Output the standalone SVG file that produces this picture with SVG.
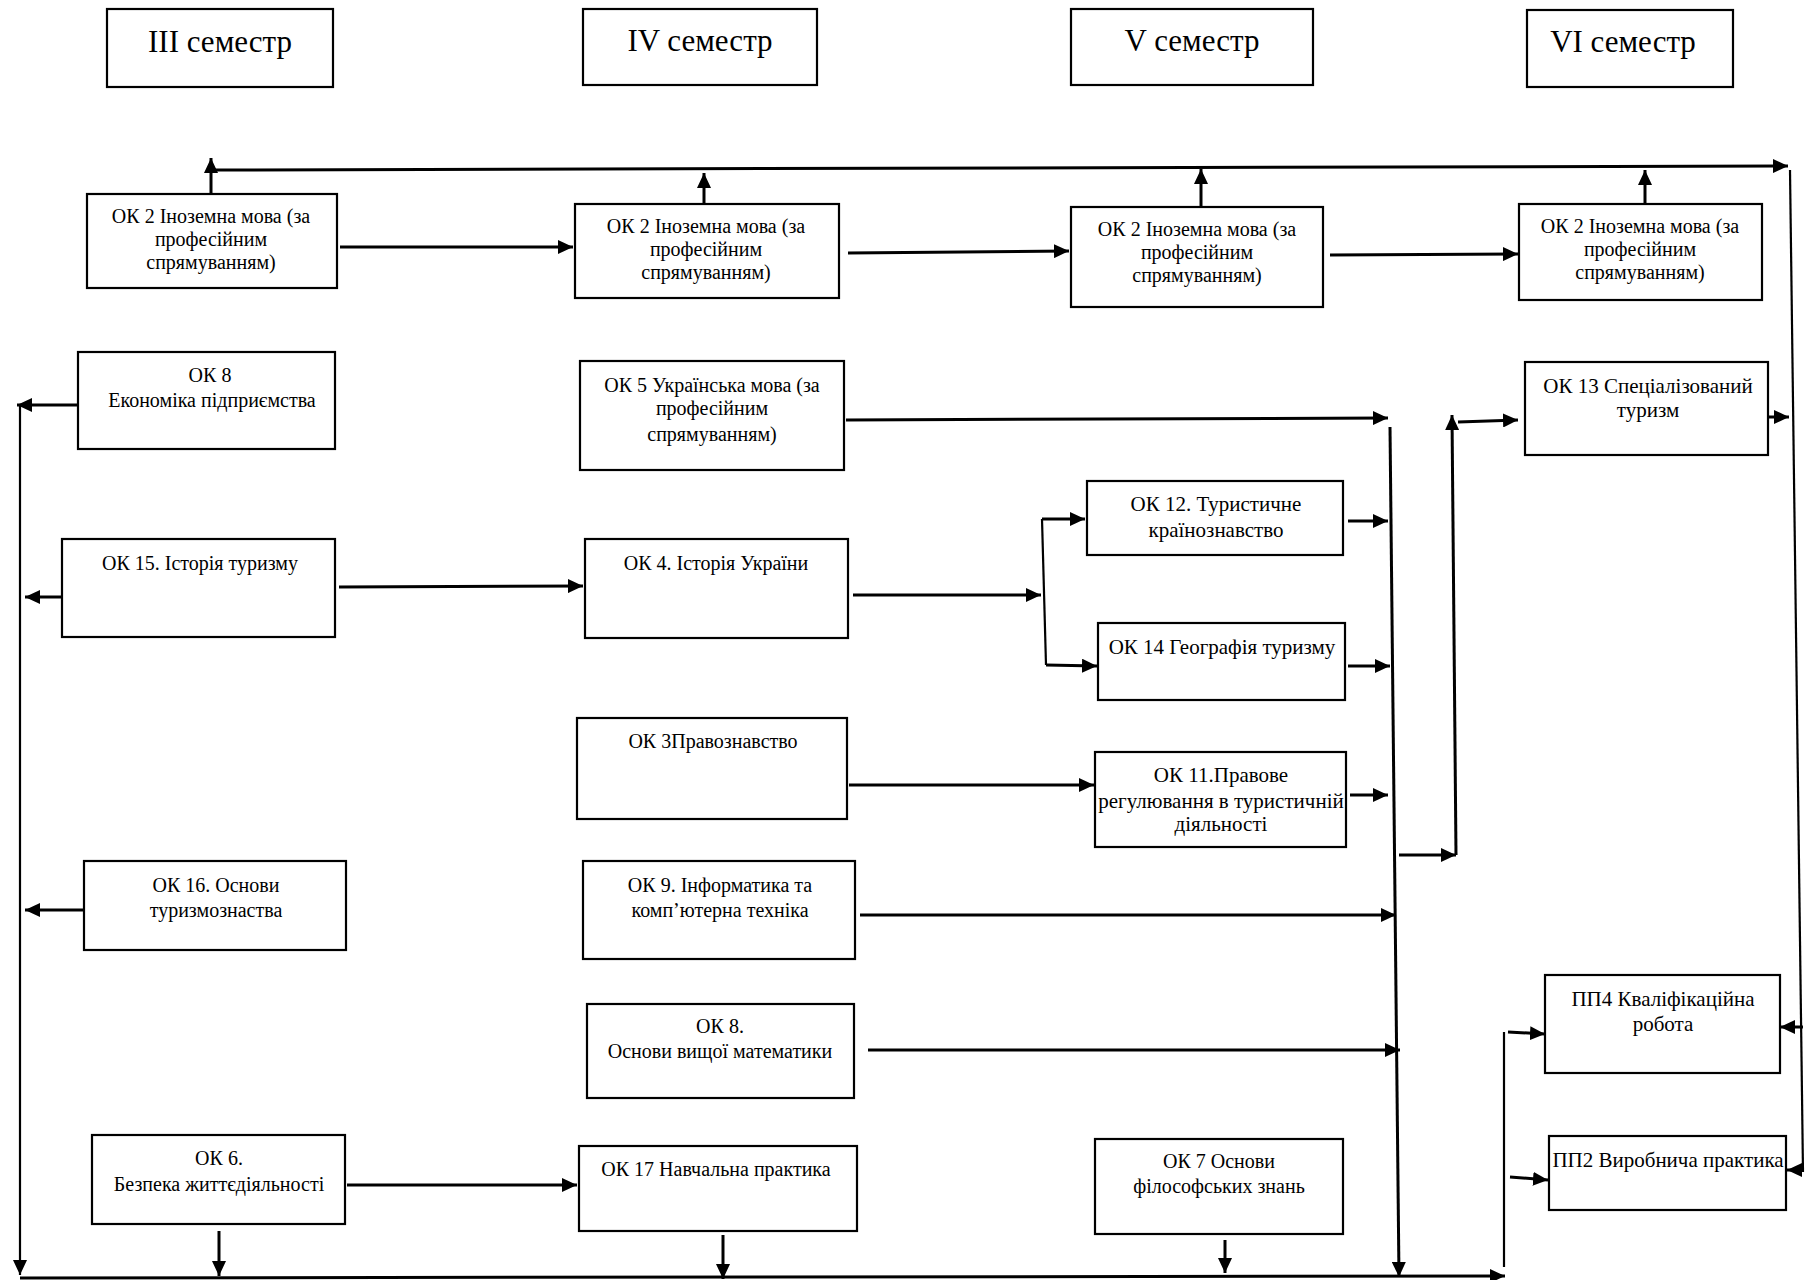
<svg xmlns="http://www.w3.org/2000/svg" width="1809" height="1280" viewBox="0 0 1809 1280">
<style>
.b{fill:#fff;stroke:#000;stroke-width:2.2}
.t{font-family:"Liberation Serif","Times New Roman",serif;font-size:20px;fill:#000;text-anchor:middle}
.w{font-size:21px}
.h{font-family:"Liberation Serif","Times New Roman",serif;font-size:31px;fill:#000;text-anchor:middle}
.c{fill:none;stroke:#000;stroke-width:3}
.l{fill:none;stroke:#000;stroke-width:2.2}
</style>
<defs>
<marker id="a" markerUnits="userSpaceOnUse" markerWidth="16" markerHeight="14" refX="15" refY="7" orient="auto">
<path d="M0,0 L15,7 L0,14 z" fill="#000"/>
</marker>
</defs>
<rect width="1809" height="1280" fill="#fff"/>

<g id="sem3"><rect class="b" x="107" y="9" width="226" height="78"/><text class="h" x="220" y="52">III семестр</text></g>
<g id="sem4"><rect class="b" x="583" y="9" width="234" height="76"/><text class="h" x="700" y="51">IV семестр</text></g>
<g id="sem5"><rect class="b" x="1071" y="9" width="242" height="76"/><text class="h" x="1192" y="51">V семестр</text></g>
<g id="sem6"><rect class="b" x="1527" y="10" width="206" height="77"/><text class="h" x="1623" y="52">VI семестр</text></g>

<g id="ok2_3"><rect class="b" x="87" y="194" width="250" height="94"/><text class="t" x="211" y="223">ОК 2 Іноземна мова (за</text><text class="t" x="211" y="246">професійним</text><text class="t" x="211" y="269">спрямуванням)</text></g>
<g id="ok2_4"><rect class="b" x="575" y="204" width="264" height="94"/><text class="t" x="706" y="233">ОК 2 Іноземна мова (за</text><text class="t" x="706" y="256">професійним</text><text class="t" x="706" y="279">спрямуванням)</text></g>
<g id="ok2_5"><rect class="b" x="1071" y="207" width="252" height="100"/><text class="t" x="1197" y="236">ОК 2 Іноземна мова (за</text><text class="t" x="1197" y="259">професійним</text><text class="t" x="1197" y="282">спрямуванням)</text></g>
<g id="ok2_6"><rect class="b" x="1519" y="204" width="243" height="96"/><text class="t" x="1640" y="233">ОК 2 Іноземна мова (за</text><text class="t" x="1640" y="256">професійним</text><text class="t" x="1640" y="279">спрямуванням)</text></g>

<g id="ok8e"><rect class="b" x="78" y="352" width="257" height="97"/><text class="t" x="210" y="382">ОК 8</text><text class="t" x="212" y="407">Економіка підприємства</text></g>
<g id="ok5"><rect class="b" x="580" y="361" width="264" height="109"/><text class="t" x="712" y="392">ОК 5  Українська мова (за</text><text class="t" x="712" y="415">професійним</text><text class="t" x="712" y="441">спрямуванням)</text></g>
<g id="ok13"><rect class="b" x="1525" y="362" width="243" height="93"/><text class="t w" x="1648" y="393">ОК 13 Спеціалізований</text><text class="t w" x="1648" y="417">туризм</text></g>

<g id="ok12"><rect class="b" x="1087" y="481" width="256" height="74"/><text class="t w" x="1216" y="511">ОК 12. Туристичне</text><text class="t w" x="1216" y="537">країнознавство</text></g>
<g id="ok15"><rect class="b" x="62" y="539" width="273" height="98"/><text class="t" x="200" y="570">ОК 15. Історія туризму</text></g>
<g id="ok4"><rect class="b" x="585" y="539" width="263" height="99"/><text class="t" x="716" y="570">ОК 4. Історія України</text></g>
<g id="ok14"><rect class="b" x="1098" y="623" width="247" height="77"/><text class="t w" x="1222" y="654">ОК 14 Географія туризму</text></g>

<g id="ok3"><rect class="b" x="577" y="718" width="270" height="101"/><text class="t" x="713" y="748">ОК 3Правознавство</text></g>
<g id="ok11"><rect class="b" x="1095" y="752" width="251" height="95"/><text class="t w" x="1221" y="782">ОК 11.Правове</text><text class="t w" x="1221" y="808">регулювання в туристичній</text><text class="t w" x="1221" y="831">діяльності</text></g>

<g id="ok16"><rect class="b" x="84" y="861" width="262" height="89"/><text class="t" x="216" y="892">ОК 16. Основи</text><text class="t" x="216" y="917">туризмознаства</text></g>
<g id="ok9"><rect class="b" x="583" y="861" width="272" height="98"/><text class="t" x="720" y="892">ОК 9. Інформатика та</text><text class="t" x="720" y="917">комп’ютерна техніка</text></g>

<g id="ok8m"><rect class="b" x="587" y="1004" width="267" height="94"/><text class="t" x="720" y="1033">ОК 8.</text><text class="t" x="720" y="1058">Основи вищої математики</text></g>
<g id="pp4"><rect class="b" x="1545" y="975" width="235" height="98"/><text class="t w" x="1663" y="1006">ПП4 Кваліфікаційна</text><text class="t w" x="1663" y="1031">робота</text></g>

<g id="ok6"><rect class="b" x="92" y="1135" width="253" height="89"/><text class="t" x="219" y="1165">ОК 6.</text><text class="t" x="219" y="1191">Безпека життєдіяльності</text></g>
<g id="ok17"><rect class="b" x="579" y="1146" width="278" height="85"/><text class="t" x="716" y="1176">ОК 17 Навчальна практика</text></g>
<g id="ok7"><rect class="b" x="1095" y="1139" width="248" height="95"/><text class="t" x="1219" y="1168">ОК 7 Основи</text><text class="t" x="1219" y="1193">філософських знань</text></g>
<g id="pp2"><rect class="b" x="1549" y="1136" width="237" height="74"/><text class="t w" x="1668" y="1167">ПП2 Виробнича практика</text></g>

<g id="connectors">
<line class="c" x1="340" y1="247" x2="573" y2="247" marker-end="url(#a)"/>
<line class="c" x1="848" y1="253" x2="1069" y2="251" marker-end="url(#a)"/>
<line class="c" x1="1330" y1="255" x2="1518" y2="254" marker-end="url(#a)"/>
<line class="c" x1="211" y1="194" x2="211" y2="158" marker-end="url(#a)"/>
<line class="c" x1="704" y1="204" x2="704" y2="173" marker-end="url(#a)"/>
<line class="c" x1="1201" y1="207" x2="1201" y2="169" marker-end="url(#a)"/>
<line class="c" x1="1645" y1="204" x2="1645" y2="170" marker-end="url(#a)"/>
<line class="c" x1="215" y1="170" x2="1788" y2="166" marker-end="url(#a)"/>
<line class="l" x1="1790" y1="170" x2="1803" y2="1172"/>
<line class="c" x1="1768" y1="417" x2="1789" y2="417" marker-end="url(#a)"/>
<line class="c" x1="1803" y1="1027" x2="1780" y2="1027" marker-end="url(#a)"/>
<line class="c" x1="1803" y1="1170" x2="1787" y2="1170" marker-end="url(#a)"/>
<line class="c" x1="78" y1="405" x2="17" y2="405" marker-end="url(#a)"/>
<line class="l" x1="20" y1="405" x2="20" y2="1275" marker-end="url(#a)"/>
<line class="c" x1="62" y1="597" x2="25" y2="597" marker-end="url(#a)"/>
<line class="c" x1="84" y1="910" x2="25" y2="910" marker-end="url(#a)"/>
<line class="c" x1="339" y1="587" x2="583" y2="586" marker-end="url(#a)"/>
<line class="c" x1="846" y1="420" x2="1388" y2="418" marker-end="url(#a)"/>
<line class="c" x1="853" y1="595" x2="1041" y2="595" marker-end="url(#a)"/>
<line class="l" x1="1042" y1="519" x2="1046" y2="665"/>
<line class="c" x1="1042" y1="519" x2="1085" y2="519" marker-end="url(#a)"/>
<line class="c" x1="1046" y1="665" x2="1097" y2="666" marker-end="url(#a)"/>
<line class="c" x1="1348" y1="521" x2="1388" y2="521" marker-end="url(#a)"/>
<line class="c" x1="1348" y1="666" x2="1390" y2="666" marker-end="url(#a)"/>
<line class="c" x1="849" y1="785" x2="1094" y2="785" marker-end="url(#a)"/>
<line class="c" x1="1350" y1="795" x2="1388" y2="795" marker-end="url(#a)"/>
<line class="c" x1="860" y1="915" x2="1396" y2="915" marker-end="url(#a)"/>
<line class="c" x1="868" y1="1050" x2="1400" y2="1050" marker-end="url(#a)"/>
<line class="c" x1="347" y1="1185" x2="577" y2="1185" marker-end="url(#a)"/>
<line class="c" x1="1390" y1="427" x2="1399" y2="1277" marker-end="url(#a)"/>
<line class="c" x1="1399" y1="855" x2="1456" y2="855" marker-end="url(#a)"/>
<line class="c" x1="1456" y1="855" x2="1452" y2="415" marker-end="url(#a)"/>
<line class="c" x1="1458" y1="422" x2="1518" y2="420" marker-end="url(#a)"/>
<line class="c" x1="219" y1="1231" x2="219" y2="1276" marker-end="url(#a)"/>
<line class="c" x1="723" y1="1235" x2="723" y2="1279" marker-end="url(#a)"/>
<line class="c" x1="1225" y1="1240" x2="1225" y2="1273" marker-end="url(#a)"/>
<line class="c" x1="20" y1="1278" x2="1505" y2="1276" marker-end="url(#a)"/>
<line class="l" x1="1504" y1="1032" x2="1504" y2="1267"/>
<line class="c" x1="1508" y1="1032" x2="1545" y2="1034" marker-end="url(#a)"/>
<line class="c" x1="1510" y1="1177" x2="1548" y2="1180" marker-end="url(#a)"/>
</g>
</svg>
